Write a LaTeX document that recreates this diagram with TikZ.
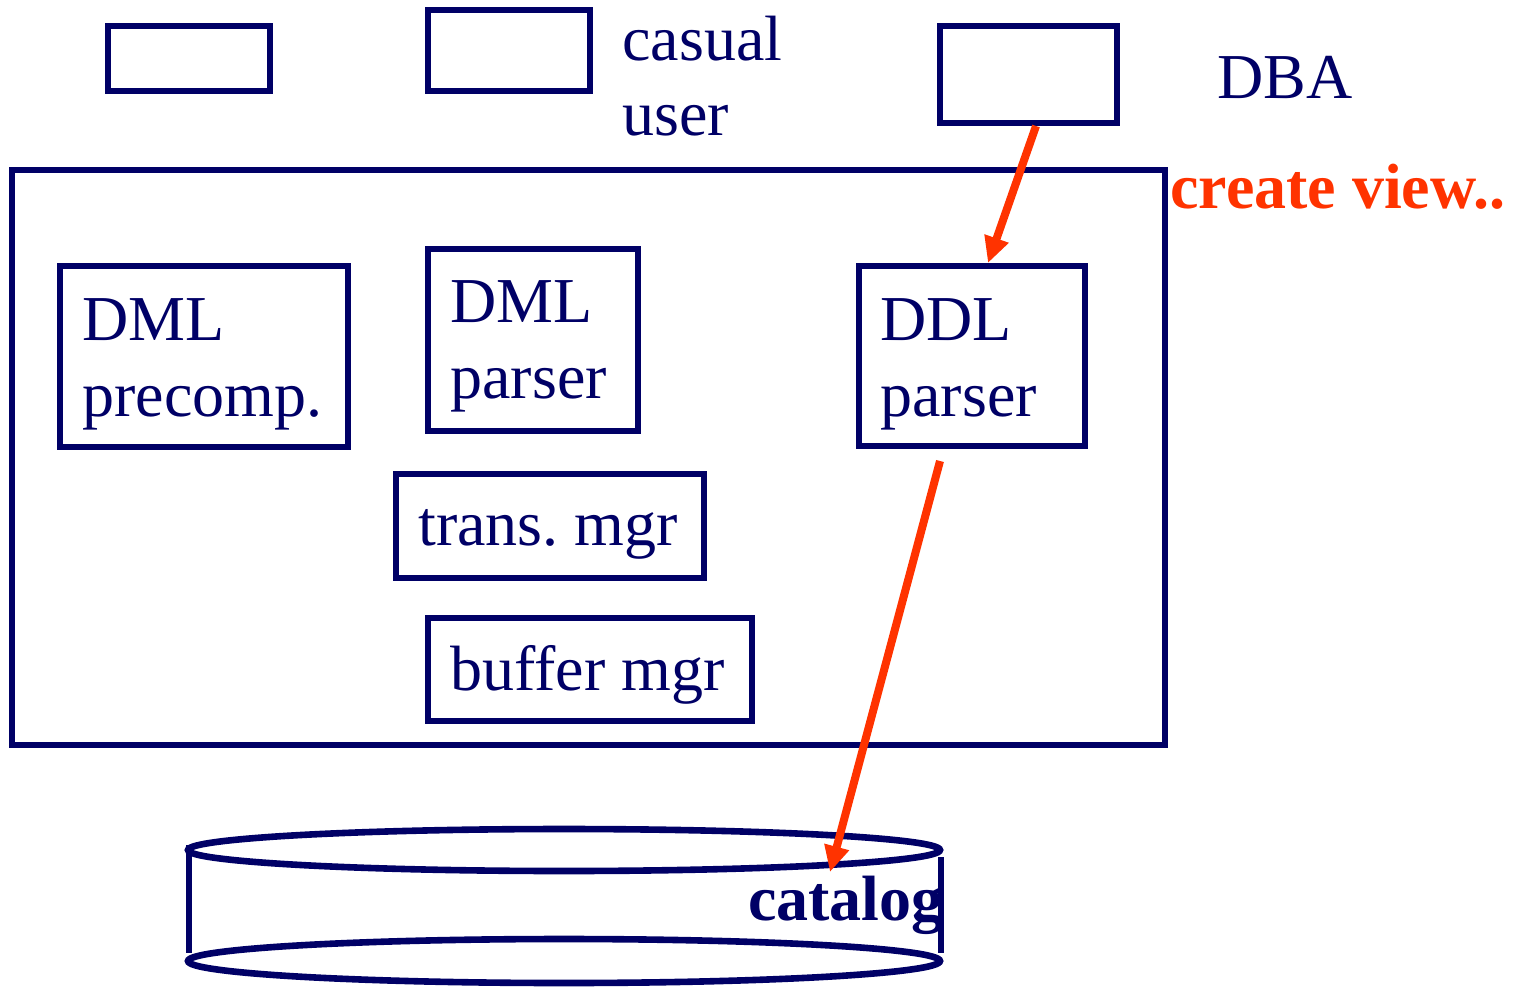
\documentclass[tikz,border=0pt]{standalone}
\usepackage{fontspec}
\setmainfont{Liberation Serif}
\usetikzlibrary{arrows.meta,calc}
\definecolor{navy}{HTML}{000066}
\definecolor{redc}{HTML}{FF3300}
\frenchspacing
\tikzset{
  box/.style={draw=navy, line width=3pt, inner sep=0pt},
  lbl/.style={text=navy, anchor=base west, inner sep=0pt, font=\fontsize{32}{38}\selectfont},
  redlbl/.style={text=redc, anchor=base west, inner sep=0pt, font=\fontsize{32}{38}\selectfont\bfseries},
  redarrow/.style={draw=redc, line width=4pt, -{Triangle[length=13pt,width=12pt]}},
  cyl/.style={draw=navy, line width=3.3pt}
}
\newcommand\pbox[5]{\node[box, minimum width={(#4-#2)*0.5pt}, minimum height={(#5-#3)*0.5pt}] (#1) at ({(#2+#4)/2},{(#3+#5)/2}) {};}
\begin{document}
\begin{tikzpicture}[x=0.5pt,y=-0.5pt]
\useasboundingbox (0,0) rectangle (1519,986);
% top boxes
\pbox{u1}{108}{26}{270}{91}
\pbox{u2}{428}{10}{590}{91}
\node[lbl] (casual) at (622,60) {casual};
\node[lbl] (user) at (622,135) {user};
\pbox{dba}{940}{26}{1117}{123}
\node[lbl] (dbalbl) at (1217,98) {DBA};
% system box
\pbox{sys}{12}{170}{1165}{745}
\node[redlbl] (cv) at (1170,208) {create view..};
\pbox{dmlpre}{60}{266}{348}{447}
\node[lbl] (t1a) at (82,340) {DML};
\node[lbl] (t1b) at (82,416) {precomp.};
\pbox{dmlpar}{428}{249}{638}{431}
\node[lbl] (t2a) at (450,322) {DML};
\node[lbl] (t2b) at (450,398) {parser};
\pbox{ddl}{859}{266}{1085}{446}
\node[lbl] (t3a) at (880,340) {DDL};
\node[lbl] (t3b) at (880,416) {parser};
\pbox{trans}{396}{474}{704}{578}
\node[lbl] (t4) at (418,545) {trans. mgr};
\pbox{buf}{428}{618}{752}{721}
\node[lbl] (t5) at (450,690) {buffer mgr};
% catalog cylinder
\draw[cyl] (189,845) -- (189,953);
\draw[cyl] (941,857) -- (941,953);
\draw[cyl] (564,850) ellipse [x radius=188pt, y radius=10.5pt];
\draw[cyl] (564,961) ellipse [x radius=188pt, y radius=11pt];
\node[text=navy, anchor=base east, inner sep=0pt, font=\fontsize{32}{38}\selectfont\bfseries] (cat) at (944,920) {catalog};
\coordinate (catin) at (830,872);
% arrows
\coordinate (a1s) at ($(dba.south)+(3.75pt,0)$);
\coordinate (a1e) at ($(ddl.north)+(8pt,0)$);
\draw[redarrow] (a1s) -- (a1e);
\coordinate (a2s) at ($(ddl.south)+(-16pt,-6pt)$);
\draw[redarrow] (a2s) -- (catin);
\end{tikzpicture}
\end{document}
